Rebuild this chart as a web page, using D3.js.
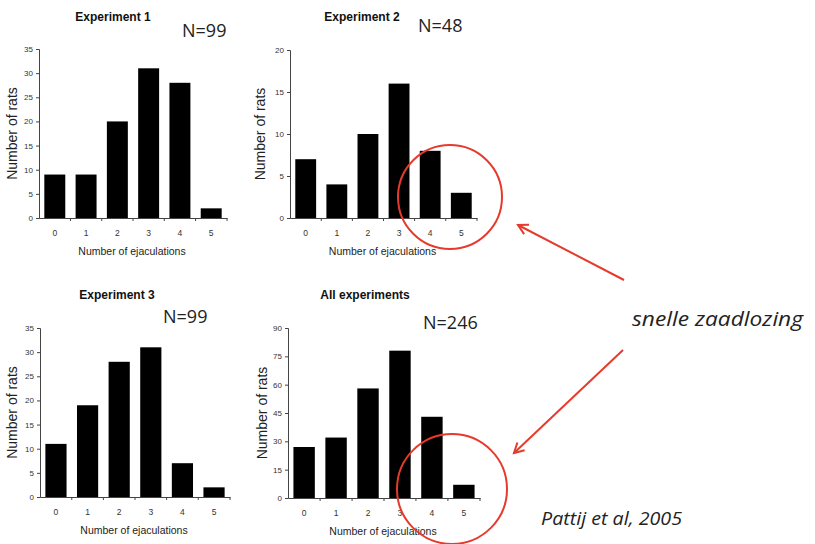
<!DOCTYPE html>
<html>
<head>
<meta charset="utf-8">
<script src="https://cdn.jsdelivr.net/npm/d3@7"></script>
<style>
  html, body { margin: 0; padding: 0; background: #fff; }
  svg { display: block; }
</style>
</head>
<body>
<div id="chart"></div>
<script>
// number of ejaculations (x categories)
const ejaculations = [0, 1, 2, 3, 4, 5];

// number of rats per category
const exp1 = [9, 9, 20, 31, 28, 2];
const exp2 = [7, 4, 10, 16, 8, 3];
const exp3 = [11, 19, 28, 31, 7, 2];
const allExp = [27, 32, 58, 78, 43, 7];

const titles = ['Experiment 1', 'Experiment 2', 'Experiment 3', 'All experiments'];
const nLabels = ['N=99', 'N=48', 'N=99', 'N=246'];
const yMax = [35, 20, 35, 90];
const yStep = [5, 5, 5, 15];

const width = 815, height = 544;
const red = '#e63a2c';

const svg = d3.select('#chart').append('svg')
  .attr('width', width)
  .attr('height', height);

// panel frames: axis left/right, top (max) and baseline, plus label spots
const panels = [
  { data: exp1, x0: 39, x1: 227, yTop: 49, yBase: 218, title: [113, 21], n: [182, 37], yLab: 12 },
  { data: exp2, x0: 290, x1: 477, yTop: 50, yBase: 218, title: [362, 21], n: [418, 32], yLab: 260 },
  { data: exp3, x0: 40, x1: 230, yTop: 328, yBase: 497, title: [117, 299], n: [163, 323], yLab: 12 },
  { data: allExp, x0: 288, x1: 480, yTop: 328, yBase: 498, title: [365, 299], n: [423, 329], yLab: 262 },
];

panels.forEach((p, i) => {
  const g = svg.append('g');

  const x = d3.scaleBand()
    .domain(ejaculations)
    .range([p.x0, p.x1])
    .paddingInner(0.33)
    .paddingOuter(0.17);

  const y = d3.scaleLinear()
    .domain([0, yMax[i]])
    .range([p.yBase, p.yTop]);

  g.selectAll('rect')
    .data(p.data)
    .join('rect')
    .attr('x', (d, j) => x(ejaculations[j]))
    .attr('y', d => y(d))
    .attr('width', x.bandwidth())
    .attr('height', d => y(0) - y(d))
    .attr('fill', '#000');

  // y axis
  const yAxis = g.append('g')
    .attr('transform', `translate(${p.x0},0)`)
    .call(d3.axisLeft(y).tickValues(d3.range(0, yMax[i] + 1, yStep[i])).tickSize(3).tickPadding(3));
  yAxis.selectAll('path, line').attr('stroke', '#444');
  yAxis.selectAll('text').attr('font-family', 'Liberation Sans, Arial, sans-serif')
    .attr('font-size', 8).attr('fill', '#333');

  // x axis: labels centred on bars, small ticks between bars
  const xAxis = g.append('g')
    .attr('transform', `translate(0,${p.yBase})`)
    .call(d3.axisBottom(x).tickSize(0).tickPadding(12));
  xAxis.select('.domain').attr('stroke', '#444');
  xAxis.selectAll('text').attr('font-family', 'Liberation Sans, Arial, sans-serif')
    .attr('font-size', 8.5).attr('fill', '#333');
  const gap = x.paddingInner() * x.step() / 2;
  const seps = ejaculations.slice(1).map(c => x(c) - gap).concat([p.x1]);
  xAxis.selectAll('.sep')
    .data(seps)
    .join('line')
    .attr('class', 'sep')
    .attr('x1', d => d).attr('x2', d => d)
    .attr('y1', 0).attr('y2', 3)
    .attr('stroke', '#444');

  g.append('text')
    .attr('x', (p.x0 + p.x1) / 2 - 1)
    .attr('y', p.yBase + 37)
    .attr('text-anchor', 'middle')
    .attr('font-family', 'Liberation Sans, Arial, sans-serif')
    .attr('font-size', 10.5)
    .attr('fill', '#222')
    .text('Number of ejaculations');

  g.append('text')
    .attr('transform', `translate(${p.yLab + 5},${(p.yTop + p.yBase) / 2}) rotate(-90)`)
    .attr('text-anchor', 'middle')
    .attr('font-family', 'Liberation Sans, Arial, sans-serif')
    .attr('font-size', 14)
    .attr('fill', '#222')
    .text('Number of rats');

  g.append('text')
    .attr('x', p.title[0])
    .attr('y', p.title[1])
    .attr('text-anchor', 'middle')
    .attr('font-family', 'Liberation Sans, Arial, sans-serif')
    .attr('font-weight', 'bold')
    .attr('font-size', 12)
    .attr('fill', '#111')
    .text(titles[i]);

  g.append('text')
    .attr('x', p.n[0])
    .attr('y', p.n[1])
    .attr('font-family', 'Open Sans, sans-serif')
    .attr('font-size', 18)
    .attr('fill', '#222')
    .text(nLabels[i]);
});

// red annotation circles
svg.append('circle').attr('cx', 450).attr('cy', 197).attr('r', 52)
  .attr('fill', 'none').attr('stroke', red).attr('stroke-width', 2);
svg.append('circle').attr('cx', 452).attr('cy', 489).attr('r', 55)
  .attr('fill', 'none').attr('stroke', red).attr('stroke-width', 2);

// arrows
function arrow(x1, y1, x2, y2) {
  const a = Math.atan2(y1 - y2, x1 - x2);
  const len = 11, spread = 0.5;
  svg.append('line').attr('x1', x1).attr('y1', y1).attr('x2', x2).attr('y2', y2)
    .attr('stroke', red).attr('stroke-width', 2);
  svg.append('path')
    .attr('d', `M${x2 + len * Math.cos(a + spread)},${y2 + len * Math.sin(a + spread)}L${x2},${y2}L${x2 + len * Math.cos(a - spread)},${y2 + len * Math.sin(a - spread)}`)
    .attr('fill', 'none').attr('stroke', red).attr('stroke-width', 2);
}
arrow(624, 280, 518, 225);
arrow(623, 350, 514, 453);

svg.append('text')
  .attr('x', 632).attr('y', 326)
  .attr('font-family', 'Open Sans, sans-serif')
  .attr('font-style', 'italic')
  .attr('font-size', 20)
  .attr('textLength', 171)
  .attr('lengthAdjust', 'spacingAndGlyphs')
  .attr('fill', '#222')
  .text('snelle zaadlozing');

svg.append('text')
  .attr('x', 541).attr('y', 525)
  .attr('font-family', 'Open Sans, sans-serif')
  .attr('font-style', 'italic')
  .attr('font-size', 18)
  .attr('textLength', 141)
  .attr('lengthAdjust', 'spacingAndGlyphs')
  .attr('fill', '#222')
  .text('Pattij et al, 2005');
</script>
</body>
</html>
